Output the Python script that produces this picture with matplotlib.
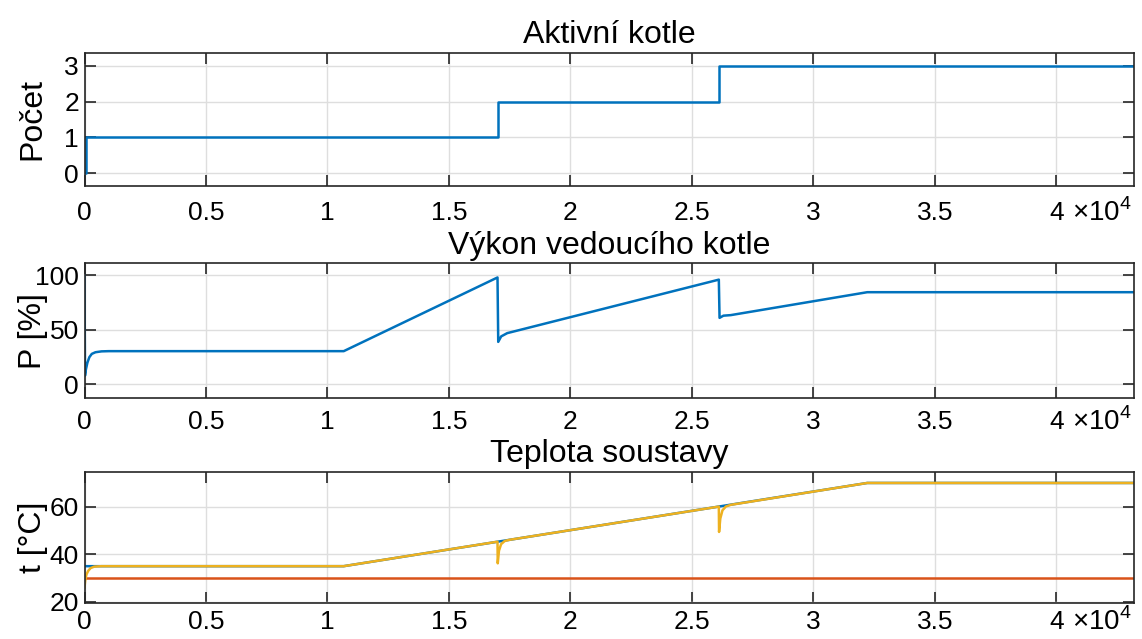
import matplotlib
matplotlib.use("Agg")
import matplotlib.pyplot as plt
from matplotlib.transforms import offset_copy

plt.rcParams["font.family"] = ["Liberation Sans", "DejaVu Sans"]
plt.rcParams["mathtext.fontset"] = "custom"
plt.rcParams["mathtext.rm"] = "Liberation Sans"

# Počet aktivních kotlů v čase [s]
pocet_t = [0, 60, 60, 17000, 17000, 26110, 26110, 43200]
pocet_v = [0, 0, 1, 1, 2, 2, 3, 3]

# Výkon vedoucího kotle [%]
vykon_t = [0, 20, 60, 120, 200, 300, 450, 700, 1000, 10670, 17000, 17030,
           17150, 17400, 26110, 26140, 26300, 26600, 32220, 43200]
vykon_v = [100, 8, 14, 20, 25, 28, 29.5, 30.3, 30.5, 30.5, 98, 39,
           44, 47, 96, 61, 63, 63.5, 84.5, 84.5]

# Teploty soustavy [°C]
zadana_t = [0, 10670, 32220, 43200]
zadana_v = [35, 35, 70, 70]

venkovni_t = [0, 43200]
venkovni_v = [30, 30]

skutecna_t = [0, 30, 80, 150, 250, 400, 700, 10670, 17000, 17010, 17060,
              17150, 17300, 17500, 26110, 26120, 26170, 26260, 26400, 26600,
              32220, 43200]
skutecna_v = [26, 29, 31.5, 33, 34.2, 34.8, 35, 35, 45.3, 36.2, 41.5,
              44.3, 45.6, 46.1, 60.06, 49.4, 55, 58.5, 60.1, 60.8,
              70, 70]

x_ticks = [0, 5000, 10000, 15000, 20000, 25000, 30000, 35000, 40000]
x_labels = ["0", "0.5", "1", "1.5", "2", "2.5", "3", "3.5", "4"]

MODRA = "#0072BD"
ORANZOVA = "#D95319"
ZLUTA = "#EDB120"
OSA = "#262626"


def uprav_osu(ax, titulek, popisek, ylim, yticks, xpad):
    ax.set_xlim(0, 43200)
    ax.set_ylim(*ylim)
    ax.set_xticks(x_ticks)
    ax.set_xticklabels(x_labels)
    ax.set_yticks(yticks)
    ax.set_title(titulek, fontsize=23, pad=7, color="black")
    ax.set_ylabel(popisek, fontsize=23, color="black")
    ax.yaxis.set_label_coords(-0.035, 0.5)
    ax.grid(True, color="#dedede", linewidth=1)
    ax.set_axisbelow(True)
    ax.tick_params(direction="in", length=8, width=1.2, labelsize=19,
                   top=True, right=True, colors=OSA, labelcolor="black")
    ax.tick_params(axis="x", pad=xpad)
    ax.tick_params(axis="y", pad=4)
    for s in ax.spines.values():
        s.set_linewidth(1.2)
        s.set_color(OSA)
    # exponent osy x, na úrovni popisků
    posun = -(xpad * 100 / 72 + 20)
    tr = offset_copy(ax.transAxes, fig=ax.figure, x=0, y=posun, units="dots")
    ax.text(0.941, 0, r"$\times10^4$", transform=tr,
            ha="left", va="baseline", fontsize=20, color="black")


fig = plt.figure(figsize=(11.42, 6.39), dpi=100)
L, W = 0.074, 0.919
ax1 = fig.add_axes([L, 0.709, W, 0.208])
ax2 = fig.add_axes([L, 0.377, W, 0.211])
ax3 = fig.add_axes([L, 0.0563, W, 0.205])

ax1.plot(pocet_t, pocet_v, color=MODRA, lw=1.8)
uprav_osu(ax1, "Aktivní kotle", "Počet", (-0.36, 3.36), [0, 1, 2, 3], 10.5)

ax2.plot(vykon_t, vykon_v, color=MODRA, lw=1.8)
uprav_osu(ax2, "Výkon vedoucího kotle", "P [%]", (-12.5, 111), [0, 50, 100], 8.3)

ax3.plot(zadana_t, zadana_v, color=MODRA, lw=1.8)
ax3.plot(venkovni_t, venkovni_v, color=ORANZOVA, lw=1.8)
ax3.plot(skutecna_t, skutecna_v, color=ZLUTA, lw=1.8)
uprav_osu(ax3, "Teplota soustavy", "t [°C]", (19.5, 74.6), [20, 40, 60], 4.7)

fig.savefig("out.png", dpi=100)
